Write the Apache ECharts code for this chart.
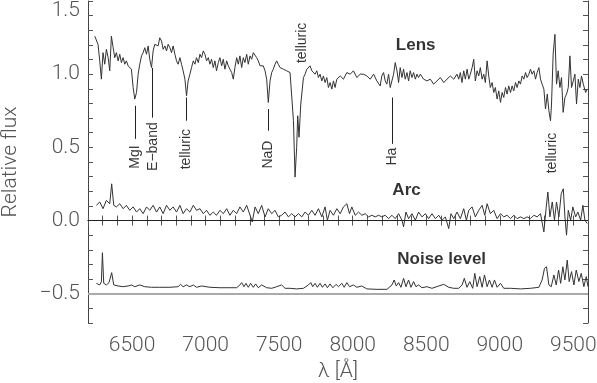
<!DOCTYPE html>
<html>
<head>
<meta charset="utf-8">
<script src="https://cdn.jsdelivr.net/npm/echarts@6/dist/echarts.min.js"></script>
<style>
  html, body { margin: 0; padding: 0; background: #fff; }
  #chart { width: 597px; height: 383px; }
</style>
</head>
<body>
<div id="chart"></div>
<script>
// lens spectrum
const lensLambda = [6246, 6268, 6280, 6291, 6302, 6314, 6325, 6337, 6348, 6359, 6371, 6382, 6393, 6405, 6416, 6427, 6439, 6450, 6461, 6473, 6484, 6495, 6507, 6518, 6530, 6541, 6552, 6564, 6575, 6586, 6598, 6609, 6620, 6632, 6643, 6654, 6666, 6677, 6688, 6700, 6711, 6723, 6734, 6745, 6757, 6768, 6779, 6791, 6802, 6813, 6825, 6836, 6847, 6859, 6870, 6881, 6893, 6904, 6916, 6927, 6938, 6950, 6961, 6972, 6984, 6995, 7006, 7018, 7029, 7040, 7052, 7063, 7074, 7086, 7097, 7109, 7120, 7131, 7143, 7154, 7165, 7177, 7188, 7199, 7211, 7222, 7233, 7245, 7256, 7267, 7279, 7290, 7302, 7313, 7324, 7336, 7347, 7358, 7370, 7381, 7392, 7404, 7415, 7426, 7438, 7449, 7460, 7472, 7483, 7494, 7506, 7517, 7529, 7540, 7551, 7563, 7574, 7585, 7597, 7608, 7619, 7626, 7635, 7647, 7665, 7676, 7688, 7699, 7710, 7722, 7733, 7744, 7756, 7767, 7778, 7790, 7801, 7812, 7824, 7835, 7846, 7858, 7869, 7880, 7892, 7903, 7915, 7937, 7960, 7983, 8005, 8028, 8051, 8074, 8096, 8119, 8142, 8164, 8187, 8198, 8210, 8221, 8232, 8244, 8255, 8267, 8278, 8289, 8301, 8312, 8323, 8335, 8346, 8357, 8369, 8380, 8391, 8403, 8414, 8426, 8437, 8448, 8460, 8482, 8505, 8528, 8550, 8573, 8596, 8619, 8641, 8664, 8687, 8709, 8721, 8732, 8743, 8755, 8766, 8778, 8789, 8800, 8812, 8823, 8834, 8846, 8857, 8868, 8880, 8891, 8902, 8914, 8925, 8936, 8948, 8959, 8970, 8982, 8993, 9005, 9016, 9027, 9039, 9050, 9061, 9073, 9084, 9095, 9107, 9118, 9130, 9141, 9152, 9164, 9175, 9186, 9198, 9209, 9220, 9232, 9243, 9254, 9266, 9277, 9288, 9300, 9311, 9323, 9334, 9345, 9352, 9363, 9375, 9386, 9397, 9409, 9420, 9431, 9443, 9454, 9466, 9477, 9488, 9500, 9511, 9522, 9534, 9545, 9556, 9568, 9584, 9595];
const lensFlux = [1.260, 1.204, 1.091, 0.966, 1.147, 1.068, 1.170, 1.113, 1.023, 1.260, 1.181, 1.113, 1.147, 1.091, 1.136, 1.079, 1.113, 1.068, 1.091, 1.057, 1.045, 1.034, 0.909, 0.830, 0.875, 1.000, 1.068, 1.125, 1.147, 1.181, 1.136, 1.193, 1.102, 1.045, 1.159, 1.204, 1.215, 1.193, 1.249, 1.227, 1.170, 1.193, 1.159, 1.204, 1.181, 1.147, 1.193, 1.136, 1.091, 1.068, 1.113, 1.068, 1.023, 0.966, 0.852, 0.954, 1.000, 1.045, 1.091, 1.068, 1.113, 1.079, 1.136, 1.113, 1.159, 1.136, 1.091, 1.113, 1.068, 1.102, 1.045, 1.091, 1.023, 1.079, 1.113, 1.057, 1.102, 1.034, 1.091, 1.057, 1.045, 1.011, 0.966, 1.045, 1.113, 1.068, 1.125, 1.045, 1.113, 1.079, 1.136, 1.068, 1.125, 1.102, 1.147, 1.159, 1.113, 1.091, 1.057, 1.045, 1.057, 1.023, 0.966, 0.807, 0.954, 1.011, 1.034, 1.068, 1.091, 1.068, 1.045, 1.057, 1.034, 1.045, 1.023, 1.034, 1.011, 1.000, 0.682, 0.297, 0.501, 0.716, 0.569, 0.796, 0.977, 1.000, 1.034, 1.023, 1.057, 1.023, 1.034, 1.000, 1.023, 0.977, 1.000, 0.954, 0.988, 0.943, 0.977, 0.909, 0.943, 0.898, 0.954, 0.909, 0.966, 0.954, 0.988, 0.966, 1.011, 1.000, 1.023, 0.977, 1.000, 1.000, 0.988, 0.966, 1.000, 0.954, 0.920, 0.988, 1.011, 0.954, 0.932, 1.000, 0.909, 0.920, 1.000, 1.079, 1.023, 0.943, 1.045, 0.977, 1.034, 0.966, 1.011, 0.954, 1.023, 0.977, 1.011, 0.966, 1.000, 0.977, 1.000, 0.966, 0.954, 0.966, 0.932, 0.954, 0.977, 0.943, 0.966, 0.988, 0.966, 1.000, 0.966, 1.011, 0.943, 1.023, 0.966, 1.034, 0.966, 1.000, 1.045, 1.102, 0.954, 1.023, 0.988, 1.045, 0.966, 1.000, 0.943, 1.091, 0.988, 0.909, 0.943, 0.875, 0.909, 0.830, 0.886, 0.807, 0.875, 0.841, 0.909, 0.864, 0.920, 0.875, 0.920, 0.886, 0.943, 0.909, 0.954, 0.932, 0.988, 0.966, 1.011, 0.977, 1.000, 1.034, 1.000, 1.023, 0.966, 1.011, 1.045, 0.966, 0.932, 0.898, 0.762, 0.864, 0.750, 0.682, 0.796, 1.136, 1.272, 0.932, 1.023, 0.909, 0.977, 0.739, 0.841, 0.864, 0.909, 1.125, 0.909, 0.954, 1.000, 0.796, 0.966, 0.909, 0.988, 0.932, 0.875, 0.898];

// arc spectrum
const arcLambda = [6257, 6280, 6302, 6325, 6348, 6361, 6375, 6393, 6416, 6439, 6461, 6484, 6507, 6530, 6552, 6575, 6598, 6620, 6643, 6666, 6688, 6711, 6734, 6757, 6779, 6802, 6825, 6847, 6870, 6893, 6916, 6938, 6961, 6984, 7006, 7029, 7052, 7074, 7097, 7120, 7143, 7165, 7188, 7211, 7233, 7256, 7279, 7302, 7317, 7336, 7358, 7381, 7404, 7426, 7449, 7472, 7494, 7517, 7540, 7563, 7585, 7608, 7631, 7654, 7676, 7699, 7722, 7744, 7767, 7790, 7812, 7828, 7846, 7869, 7892, 7915, 7937, 7960, 7978, 7994, 8017, 8040, 8062, 8085, 8108, 8130, 8153, 8176, 8198, 8221, 8244, 8267, 8289, 8312, 8335, 8346, 8362, 8380, 8403, 8426, 8448, 8471, 8494, 8516, 8539, 8562, 8585, 8607, 8630, 8653, 8668, 8687, 8709, 8732, 8755, 8773, 8789, 8812, 8834, 8857, 8880, 8898, 8914, 8936, 8959, 8982, 9005, 9027, 9050, 9073, 9095, 9118, 9141, 9164, 9186, 9209, 9232, 9254, 9277, 9300, 9316, 9327, 9341, 9357, 9372, 9386, 9402, 9418, 9432, 9443, 9454, 9466, 9482, 9497, 9516, 9531, 9550, 9565, 9579, 9595];
const arcFlux = [0.104, 0.127, 0.081, 0.138, 0.115, 0.251, 0.104, 0.093, 0.115, 0.081, 0.104, 0.070, 0.093, 0.058, 0.081, 0.047, 0.093, 0.070, 0.104, 0.058, 0.093, 0.047, 0.104, 0.070, 0.093, 0.058, 0.104, 0.047, 0.081, 0.058, 0.104, 0.070, 0.081, 0.047, 0.070, 0.036, 0.058, 0.036, 0.070, 0.047, 0.081, 0.036, 0.070, 0.047, 0.093, 0.058, 0.104, 0.036, -0.010, 0.093, 0.047, 0.104, 0.025, 0.081, 0.047, 0.070, 0.025, 0.036, 0.058, 0.025, 0.047, 0.025, 0.047, 0.025, 0.058, 0.036, 0.070, 0.036, 0.081, 0.025, 0.093, 0.002, 0.070, 0.036, 0.081, 0.047, 0.093, 0.115, 0.047, 0.093, 0.036, 0.058, 0.036, 0.047, 0.025, 0.036, 0.025, 0.036, 0.025, 0.036, 0.013, 0.036, 0.013, 0.047, 0.002, -0.043, 0.058, 0.013, 0.047, 0.002, 0.058, 0.025, 0.047, 0.013, 0.047, 0.013, 0.036, 0.002, 0.025, -0.055, 0.047, 0.013, 0.058, 0.013, 0.081, 0.002, 0.070, 0.093, 0.025, 0.070, 0.104, 0.036, 0.115, 0.047, 0.070, 0.013, 0.047, 0.025, 0.036, 0.013, 0.036, 0.013, 0.025, 0.013, 0.025, 0.013, 0.036, 0.025, 0.047, -0.078, 0.093, 0.195, 0.025, 0.127, 0.002, 0.127, 0.025, 0.184, 0.217, 0.025, -0.100, 0.070, 0.002, 0.093, 0.025, 0.058, 0.002, 0.104, 0.002, -0.020];

// noise level
const noiseLambda = [6257, 6280, 6291, 6298, 6307, 6325, 6343, 6361, 6375, 6405, 6439, 6473, 6495, 6518, 6552, 6586, 6632, 6688, 6757, 6813, 6829, 6847, 6870, 6893, 6916, 6938, 6972, 7029, 7097, 7165, 7211, 7233, 7245, 7261, 7274, 7290, 7306, 7324, 7340, 7358, 7381, 7415, 7449, 7483, 7517, 7540, 7574, 7619, 7665, 7699, 7715, 7728, 7744, 7760, 7778, 7794, 7812, 7828, 7846, 7865, 7887, 7903, 7926, 7942, 7960, 7978, 8005, 8028, 8062, 8096, 8164, 8233, 8267, 8282, 8296, 8312, 8328, 8346, 8362, 8380, 8396, 8414, 8430, 8448, 8471, 8505, 8539, 8585, 8619, 8653, 8687, 8721, 8744, 8759, 8777, 8796, 8816, 8830, 8846, 8864, 8880, 8896, 8914, 8930, 8948, 8964, 8982, 9005, 9027, 9073, 9141, 9209, 9266, 9288, 9304, 9318, 9334, 9350, 9368, 9384, 9400, 9414, 9429, 9443, 9459, 9472, 9488, 9504, 9520, 9538, 9554, 9572, 9588, 9600];
const noiseFlux = [-0.429, -0.440, -0.418, -0.220, -0.429, -0.440, -0.424, -0.356, -0.440, -0.447, -0.452, -0.447, -0.440, -0.452, -0.440, -0.452, -0.456, -0.456, -0.456, -0.452, -0.436, -0.452, -0.440, -0.452, -0.440, -0.456, -0.447, -0.456, -0.459, -0.459, -0.459, -0.440, -0.424, -0.452, -0.429, -0.456, -0.429, -0.456, -0.433, -0.459, -0.440, -0.459, -0.463, -0.452, -0.440, -0.463, -0.463, -0.467, -0.463, -0.440, -0.424, -0.452, -0.429, -0.456, -0.429, -0.456, -0.433, -0.459, -0.433, -0.459, -0.436, -0.452, -0.429, -0.456, -0.424, -0.452, -0.440, -0.456, -0.447, -0.467, -0.470, -0.470, -0.440, -0.406, -0.447, -0.424, -0.456, -0.395, -0.452, -0.406, -0.456, -0.417, -0.452, -0.440, -0.459, -0.452, -0.463, -0.447, -0.436, -0.456, -0.463, -0.463, -0.440, -0.395, -0.456, -0.417, -0.463, -0.361, -0.452, -0.383, -0.456, -0.372, -0.452, -0.406, -0.456, -0.406, -0.456, -0.429, -0.463, -0.463, -0.467, -0.463, -0.456, -0.406, -0.327, -0.316, -0.440, -0.452, -0.372, -0.440, -0.338, -0.429, -0.316, -0.406, -0.270, -0.417, -0.349, -0.440, -0.338, -0.417, -0.361, -0.452, -0.383, -0.452];

// line identifications
const featureNames = ['MgI', 'E\u2212band', 'telluric', 'NaD', 'telluric', 'Ha', 'telluric'];
const featureLambda = [6522, 6645, 6870, 7424, 7654, 8267, 9357];
const featureLabelY = [0.434, 0.505, 0.488, 0.451, 1.214, 0.437, 0.461];
const markerLambda = [6521, 6639, 6870, 7424, 8267];
const markerTop = [0.784, 1.043, 0.841, 0.762, 0.841];
const markerBottom = [0.558, 0.703, 0.682, 0.614, 0.524];

const seriesNames = ['Lens', 'Arc', 'Noise level'];
const seriesNameLambda = [8428, 8366, 8605];
const seriesNameY = [1.199, 0.206, -0.263];

const zip = (xs, ys) => xs.map((x, i) => [x, ys[i]]);

const chart = echarts.init(document.getElementById('chart'));

const tickFont = { fontFamily: 'Roboto', fontWeight: 300, fontSize: 21, color: '#555' };
const axisLine = { show: true, lineStyle: { color: '#444', width: 1 } };
const axisTick = { show: true, inside: true, length: 5, lineStyle: { color: '#555', width: 1 } };

const specLine = { color: '#333', width: 1 };

const yLabel = v => {
  const r = Math.round(v * 10) / 10;
  if (Math.abs(r * 2 - Math.round(r * 2)) > 1e-6) return '';
  return (r < 0 ? '\u2212' : '') + Math.abs(r).toFixed(1);
};

chart.setOption({
  animation: false,
  backgroundColor: '#fff',
  grid: { left: 88, right: 9, top: 1, bottom: 60, outerBoundsMode: 'none', containLabel: false },
  xAxis: [
    {
      type: 'value', min: 6200, max: 9600, interval: 100, position: 'bottom',
      axisLine, axisTick, splitLine: { show: false },
      axisLabel: Object.assign({}, tickFont, {
        margin: 12,
        formatter: v => (v % 500 === 0 ? String(v) : '')
      }),
      name: 'λ [Å]', nameLocation: 'middle', nameGap: 37,
      nameTextStyle: tickFont
    },
    {
      type: 'value', min: 6200, max: 9600, interval: 100, position: 'top',
      axisLine, axisTick, splitLine: { show: false }, axisLabel: { show: false }
    }
  ],
  yAxis: [
    {
      type: 'value', min: -0.7, max: 1.5, interval: 0.1, position: 'left',
      axisLine, axisTick, splitLine: { show: false },
      axisLabel: Object.assign({}, tickFont, {
        margin: 8,
        formatter: v => (v > 1.45 ? '' : yLabel(v))
      }),
      name: 'Relative flux', nameLocation: 'middle', nameGap: 67, nameRotate: 90,
      nameTextStyle: tickFont
    },
    {
      type: 'value', min: -0.7, max: 1.5, interval: 0.1, position: 'right',
      axisLine, axisTick, splitLine: { show: false }, axisLabel: { show: false }
    }
  ],
  // top tick label, hung just below its tick so it stays on the canvas
  graphic: [{
    type: 'text', right: 597 - 80, top: 0,
    style: { text: yLabel(1.5), font: '300 21px Roboto', fill: '#555' }
  }],
  series: [
    {
      name: 'Lens', type: 'line', data: zip(lensLambda, lensFlux),
      showSymbol: false, lineStyle: specLine, itemStyle: { color: '#333' },
      markLine: {
        silent: true, symbol: 'none', label: { show: false },
        lineStyle: { color: '#222', width: 1, type: 'solid' },
        data: markerLambda.map((x, i) => [{ coord: [x, markerTop[i]] }, { coord: [x, markerBottom[i]] }])
      }
    },
    {
      name: 'Arc', type: 'line', data: zip(arcLambda, arcFlux),
      showSymbol: false, lineStyle: specLine, itemStyle: { color: '#333' },
      markLine: {
        silent: true, symbol: 'none', label: { show: false },
        lineStyle: { color: '#222', width: 1, type: 'solid' },
        data: [{ yAxis: 0 }]
      }
    },
    {
      name: 'Noise level', type: 'line', data: zip(noiseLambda, noiseFlux),
      showSymbol: false, lineStyle: specLine, itemStyle: { color: '#333' },
      markLine: {
        silent: true, symbol: 'none', label: { show: false },
        lineStyle: { color: '#aaa', width: 2, type: 'solid' },
        data: [{ yAxis: -0.5 }]
      }
    },
    {
      name: 'features', type: 'scatter', symbolSize: 0, silent: true,
      data: featureNames.map((n, i) => ({ value: [featureLambda[i], featureLabelY[i]], name: n })),
      label: {
        show: true, position: 'inside', rotate: 90, formatter: p => p.name,
        fontFamily: 'Liberation Sans', fontSize: 14, color: '#000'
      }
    },
    {
      name: 'titles', type: 'scatter', symbolSize: 0, silent: true,
      data: seriesNames.map((n, i) => ({ value: [seriesNameLambda[i], seriesNameY[i]], name: n })),
      label: {
        show: true, position: 'inside', formatter: p => p.name,
        fontFamily: 'Liberation Sans', fontWeight: 'bold', fontSize: 17, color: '#000'
      }
    }
  ]
});
</script>
</body>
</html>
